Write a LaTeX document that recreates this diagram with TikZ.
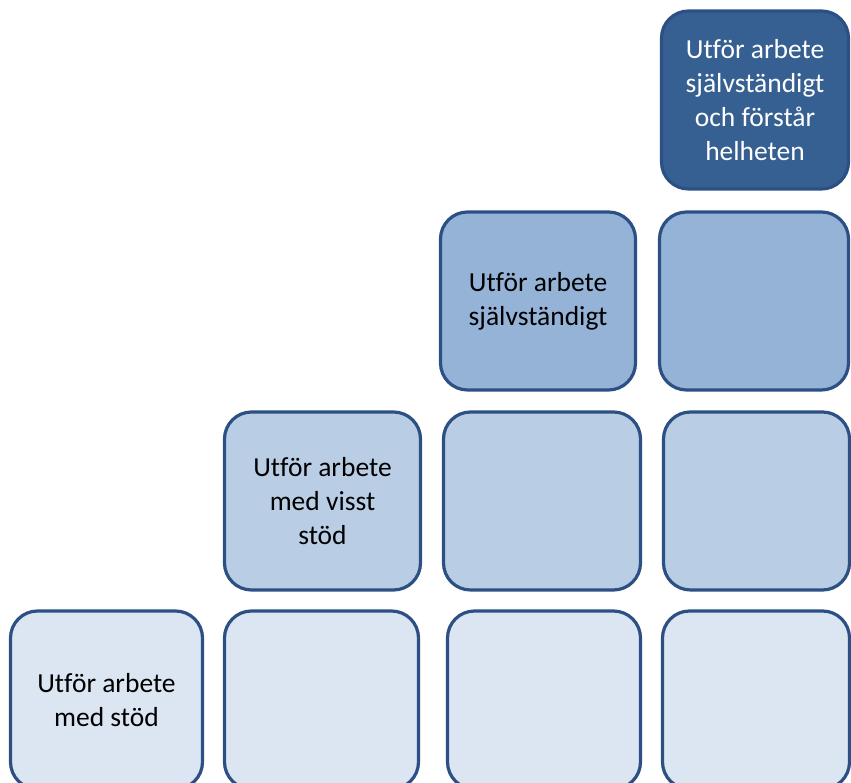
\documentclass[tikz,border=0pt]{standalone}
\usepackage{fontspec}
\setmainfont{Carlito}[Ligatures={NoCommon}]
\definecolor{rimblue}{HTML}{2C5084}
\definecolor{stepdark}{HTML}{376092}
\definecolor{stepmid}{HTML}{95B3D7}
\definecolor{steplight}{HTML}{B9CDE5}
\definecolor{steppale}{HTML}{DCE6F2}
\tikzset{
  tile/.style={rectangle, rounded corners=27pt, draw=rimblue, line width=3.2pt,
    minimum width=190pt, minimum height=178pt, inner sep=0pt,
    align=center, font=\fontsize{27.5pt}{34pt}\selectfont, text=black},
  lvlfour/.style={tile, fill=stepdark, text=white},
  lvlthree/.style={tile, fill=stepmid},
  lvltwo/.style={tile, fill=steplight},
  lvlone/.style={tile, fill=steppale}
}
\begin{document}
\begin{tikzpicture}[x=1pt, y=1pt]
\useasboundingbox (0,0) rectangle (851,783);
\clip (0,0) rectangle (851,783);
% top step
\node[lvlfour, minimum width=187pt] (d4) at (755,683) {Utför arbete\\självständigt\\och förstår\\helheten};
% third step
\node[lvlthree, minimum width=195pt] (c3) at (538,482) {Utför arbete\\självständigt};
\node[lvlthree, minimum width=189pt] (c4) at (754,482) {};
% second step
\node[lvltwo, minimum width=196pt] (b2) at (322.5,282) {Utför arbete\\med visst\\stöd};
\node[lvltwo, minimum width=197pt] (b3) at (542,282) {};
\node[lvltwo, minimum width=186pt] (b4) at (756.5,282) {};
% bottom step
\node[lvlone, minimum width=192pt] (a1) at (106.5,83) {Utför arbete\\med stöd};
\node[lvlone, minimum width=194pt] (a2) at (321.5,83) {};
\node[lvlone, minimum width=193pt] (a3) at (544,83) {};
\node[lvlone, minimum width=187pt] (a4) at (756,83) {};
\end{tikzpicture}
\end{document}
